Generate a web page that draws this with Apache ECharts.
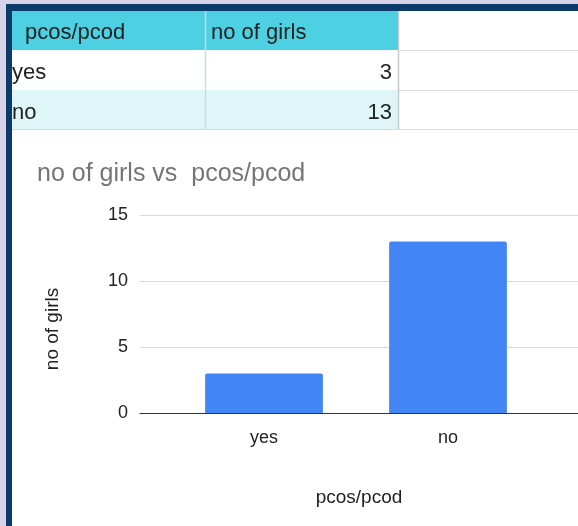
<!DOCTYPE html>
<html>
<head>
	<meta charset="utf-8">
	<title>no of girls vs pcos/pcod</title>
	<style>
		body { margin: 0; background: #d8d2e8; }
		#chart1 { width: 578px; height: 526px; }
	</style>
</head>

<body>
	<div id="chart1"></div>

	<script src="https://cdn.jsdelivr.net/npm/echarts@6/dist/echarts.min.js"></script>
	<script>

	// data
	var headers = ['pcos/pcod', 'no of girls'];
	var categories = ['yes', 'no'];
	var girls = [3, 13];
	var yTicks = [0, 5, 10, 15];

	var font = 'Liberation Sans, Arial, sans-serif';
	var myChart = echarts.init(document.getElementById('chart1'));

	// spreadsheet cells above the chart
	var colX = [12, 205, 398, 578];
	var rowY = [11, 50, 90, 129];
	var rowFill = ['#4dd0e1', '#ffffff', '#dff6f9'];
	var cells = [];
	cells.push({ type: 'rect', shape: { x: 0, y: 0, width: 578, height: 526 }, style: { fill: '#d8d2e8' }, silent: true });
	cells.push({ type: 'rect', shape: { x: 6, y: 4, width: 572, height: 522 }, style: { fill: '#0c3b6a' }, silent: true });
	cells.push({ type: 'rect', shape: { x: 12, y: 11, width: 566, height: 515 }, style: { fill: '#ffffff' }, silent: true });
	for (var r = 0; r < 3; r++) {
		cells.push({ type: 'rect', shape: { x: colX[0], y: rowY[r], width: colX[2] - colX[0], height: rowY[r + 1] - rowY[r] },
			style: { fill: rowFill[r] }, silent: true });
		cells.push({ type: 'line', shape: { x1: colX[0], y1: rowY[r + 1] + 0.5, x2: 578, y2: rowY[r + 1] + 0.5 },
			style: { stroke: '#d9d9d9', lineWidth: 1 }, silent: true });
	}
	for (var c = 1; c < 3; c++) {
		cells.push({ type: 'line', shape: { x1: colX[c] + 0.5, y1: rowY[0], x2: colX[c] + 0.5, y2: rowY[3] },
			style: { stroke: c == 2 ? '#c8c8c8' : '#c0dfe3', lineWidth: 1.5 }, silent: true });
	}
	cells.push({ type: 'text', left: 25, top: 22, style: { text: headers[0], font: '22px ' + font, fill: '#222' }, silent: true });
	cells.push({ type: 'text', left: 211, top: 22, style: { text: headers[1], font: '22px ' + font, fill: '#222' }, silent: true });
	for (var i = 0; i < categories.length; i++) {
		cells.push({ type: 'text', left: 12, top: rowY[i + 1] + 12, style: { text: categories[i], font: '22px ' + font, fill: '#222' }, silent: true });
		cells.push({ type: 'text', right: 578 - 392, top: rowY[i + 1] + 12, style: { text: String(girls[i]), font: '22px ' + font, fill: '#222', align: 'right' }, silent: true });
	}

	var option = {
		animation: false,
		backgroundColor: 'transparent',
		graphic: cells,
		title: {
			text: 'no of girls vs  pcos/pcod',
			left: 32, top: 157,
			textStyle: { fontFamily: font, fontSize: 25, fontWeight: 'normal', color: '#757575' }
		},
		grid: [
			{ left: 172, right: 38, top: 215, bottom: 113 },
			{ left: 140, right: 0, top: 215, bottom: 113 }
		],
		xAxis: [
			{
				type: 'category', gridIndex: 0, data: categories,
				axisLine: { show: false }, axisTick: { show: false },
				axisLabel: { margin: 16, fontFamily: font, fontSize: 18, color: '#222' }
			},
			{
				type: 'category', gridIndex: 1, data: categories,
				axisLine: { show: true, lineStyle: { color: '#333', width: 1 } },
				axisTick: { show: false }, axisLabel: { show: false },
				name: 'pcos/pcod', nameLocation: 'middle', nameGap: 75,
				nameTextStyle: { fontFamily: font, fontSize: 19, color: '#222' }
			}
		],
		yAxis: [
			{
				type: 'value', gridIndex: 0, min: 0, max: 15, interval: 5,
				splitLine: { show: false },
				axisLabel: { show: false },
				name: 'no of girls', nameLocation: 'middle', nameGap: 110,
				nameTextStyle: { fontFamily: font, fontSize: 19, color: '#222', padding: [0, 0, 0, -30] }
			},
			{
				type: 'value', gridIndex: 1, min: yTicks[0], max: yTicks[yTicks.length - 1], interval: 5,
				splitLine: { lineStyle: { color: '#d9d9d9', width: 1 } },
				axisLabel: { margin: 12, fontFamily: font, fontSize: 18, color: '#222' }
			}
		],
		series: [
			{
				name: headers[1],
				type: 'bar',
				xAxisIndex: 0, yAxisIndex: 0,
				data: girls,
				barCategoryGap: '36%',
				itemStyle: { color: '#4285f4', borderRadius: [2, 2, 0, 0] }
			}
		]
	};

	myChart.setOption(option);
	</script>
</body>

</html>
